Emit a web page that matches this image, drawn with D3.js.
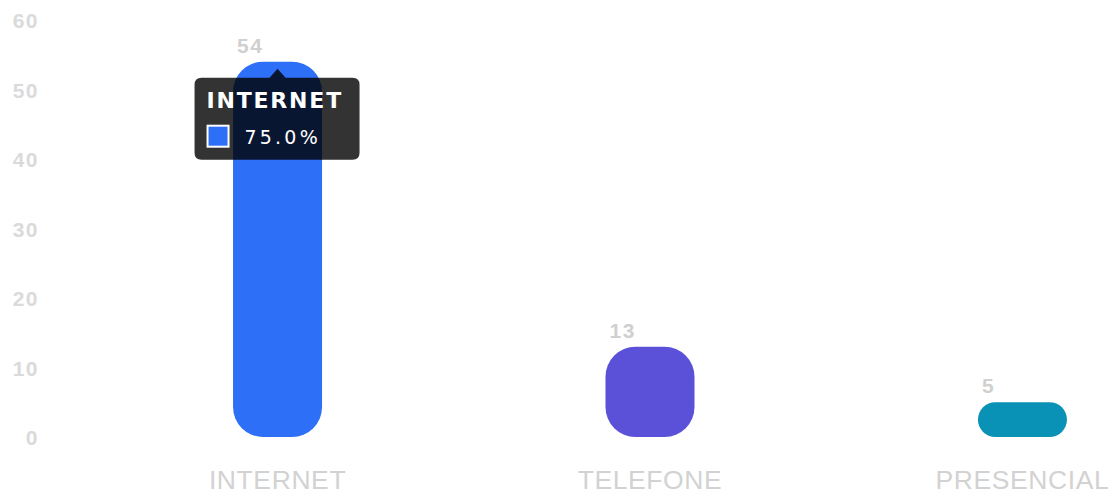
<!DOCTYPE html>
<html>
<head>
<meta charset="utf-8">
<script src="https://cdn.jsdelivr.net/npm/d3@7/dist/d3.min.js"></script>
<style>
  html, body { margin: 0; padding: 0; background: #fff; }
  svg { display: block; font-family: "Liberation Sans", Arial, sans-serif; }
</style>
</head>
<body>
<svg id="chart" width="1116" height="498"></svg>
<script>
// Atendimentos por canal
const categories = ["INTERNET", "TELEFONE", "PRESENCIAL"];
const values = [54, 13, 5];
const colors = ["#2e6ff7", "#5b51d8", "#0a92b6"];
const yTicks = [0, 10, 20, 30, 40, 50, 60];
const activeIndex = 0; // bar with the tooltip open

const svg = d3.select("#chart");

const x = d3.scaleBand()
  .domain(categories)
  .range([91.5, 1208.5])
  .paddingInner(0.761)
  .paddingOuter(0.38);

const y = d3.scaleLinear()
  .domain([0, 60])
  .range([437, 20]);

// Y axis labels
const yAxis = d3.axisLeft(y).tickValues(yTicks).tickSize(0).tickPadding(0);
const gy = svg.append("g").attr("transform", "translate(39,0)").call(yAxis);
gy.select(".domain").remove();
gy.selectAll("text")
  .attr("fill", "#dadada")
  .attr("font-family", "'Liberation Sans', Arial, sans-serif")
  .attr("font-size", 21)
  .attr("font-weight", "bold")
  .attr("letter-spacing", 1.5)
  .attr("dy", "0.36em");

// X axis labels
const xAxis = d3.axisBottom(x).tickSize(0).tickPadding(0);
const gx = svg.append("g").attr("transform", `translate(0,489)`).call(xAxis);
gx.select(".domain").remove();
gx.selectAll("text")
  .attr("fill", "#d2d2d2")
  .attr("font-family", "'Liberation Sans', Arial, sans-serif")
  .attr("font-size", 26.5)
  .attr("dy", "0")
  .attr("letter-spacing", 0.6);

// Bars with rounded corners
const data = categories.map((c, i) => ({ c, v: values[i], color: colors[i] }));
svg.append("g").selectAll("rect")
  .data(data)
  .join("rect")
  .attr("x", d => x(d.c))
  .attr("y", d => y(d.v))
  .attr("width", x.bandwidth())
  .attr("height", d => y(0) - y(d.v))
  .attr("rx", d => Math.min(30, (y(0) - y(d.v)) / 2))
  .attr("ry", d => Math.min(30, (y(0) - y(d.v)) / 2))
  .attr("fill", d => d.color);

// Value labels
svg.append("g").selectAll("text")
  .data(data)
  .join("text")
  .attr("x", d => x(d.c) + 4)
  .attr("y", d => y(d.v) - 9)
  .attr("fill", "#d0d0d0")
  .attr("font-size", 21)
  .attr("font-weight", "bold")
  .attr("letter-spacing", 1.5)
  .text(d => d.v);

// Tooltip
const total = d3.sum(values);
const act = data[activeIndex];
const cx = x(act.c) + x.bandwidth() / 2;
const boxY = y(act.v) + 16;
const boxX = cx - 83, boxW = 165, boxH = 82;
const tip = svg.append("g").attr("font-family", "'DejaVu Sans', sans-serif");
tip.append("path")
  .attr("d", `M${boxX + 7},${boxY} H${cx - 8} L${cx},${boxY - 9} L${cx + 8},${boxY} H${boxX + boxW - 7}
    Q${boxX + boxW},${boxY} ${boxX + boxW},${boxY + 7} V${boxY + boxH - 7}
    Q${boxX + boxW},${boxY + boxH} ${boxX + boxW - 7},${boxY + boxH} H${boxX + 7}
    Q${boxX},${boxY + boxH} ${boxX},${boxY + boxH - 7} V${boxY + 7}
    Q${boxX},${boxY} ${boxX + 7},${boxY} Z`)
  .attr("fill", "rgba(0,0,0,0.8)");
tip.append("text")
  .attr("x", boxX + 12).attr("y", boxY + 30)
  .attr("fill", "#fff")
  .attr("font-size", 22)
  .attr("font-weight", "bold")
  .attr("letter-spacing", 1.8)
  .text(act.c);
tip.append("rect")
  .attr("x", boxX + 13).attr("y", boxY + 48)
  .attr("width", 21).attr("height", 21)
  .attr("fill", act.color)
  .attr("stroke", "#fff")
  .attr("stroke-width", 2);
tip.append("text")
  .attr("x", boxX + 50).attr("y", boxY + 66)
  .attr("fill", "#fff")
  .attr("font-size", 19)
  .attr("letter-spacing", 3.2)
  .text((act.v / total * 100).toFixed(1) + "%");
</script>
</body>
</html>
